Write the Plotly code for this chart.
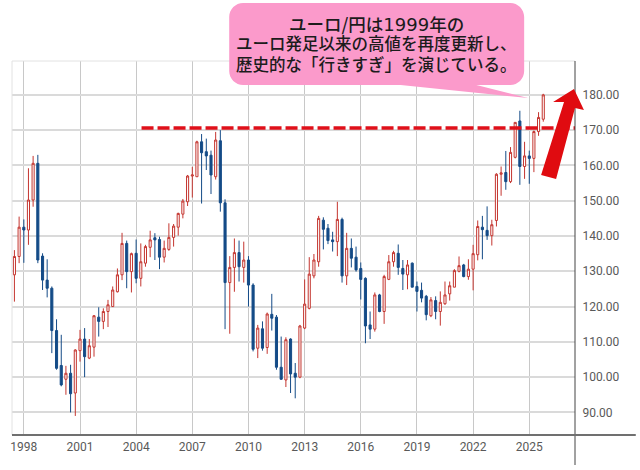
import plotly.graph_objects as go
import pandas as pd

W, H = 640, 470
L, R, T, B = 10, 65, 61, 35

opens = [129, 134.2, 142.5, 141.7, 150.2, 160.6, 134.3, 127.5, 125.2, 113.2,
         103.3, 99.4, 101.1, 95.5, 107.5, 110.8, 105.4, 108.5, 117, 115.8,
         118.6, 120, 124.2, 129, 137.9, 129.9, 135.1, 128, 132.3, 136.8,
         139.5, 139, 134, 136.2, 139.6, 142.5, 146.2, 149.7, 157, 156.8,
         166.7, 163.9,
         162.9, 156.8, 167, 149.4, 126.8, 131.1, 135.3, 131.1, 133.2, 126.1,
         108.2, 113.7, 108.4, 117.8, 117, 102.8, 99.2, 110.8, 101.1, 100,
         113.9, 119.5, 128.7, 132.7, 144.5, 142.2, 138.9, 138.4, 144.7, 128.7,
         136.5, 134, 130.8, 128, 114.8, 113.6, 123.3, 118.6, 127.7, 132.7,
         135.1, 130.8, 129, 132.3,
         125.7, 124.6, 122.9, 117.4, 121.7, 118.6, 120.8, 123.6, 125.5, 130,
         131.8, 128.5, 130.6, 134.7, 142.5, 141.6, 140.1, 144.4, 157.5, 158,
         155.4, 162.3, 172.6, 159.7, 162.7, 162, 169.6, 173.1]
highs = [136, 145.5, 144.7, 159.2, 162.7, 163, 135.1, 133.4, 125.7, 116.4,
         112, 103.2, 103.5, 107.9, 113.4, 113.9, 110.8, 117.6, 119.8, 119.5,
         121.9, 125.7, 130.8, 140.9, 138.7, 135.3, 139, 137.9, 137.5, 141.5,
         140.8, 139.8, 138.7, 143.6, 143.4, 146.6, 150.5, 157.3, 159.6, 167,
         168.9, 167.6,
         164.2, 169.5, 170, 150.4, 134.3, 139.3, 138.7, 138.4, 134.3, 126.6,
         114.8, 115.8, 118.3, 123.6, 117.6, 111.5, 111.3, 111, 104, 114.8,
         127.7, 134, 134.9, 145.7, 145.3, 143.4, 141.2, 149.7, 145.2, 140.9,
         139.3, 137, 132.5, 128.3, 118.6, 124, 123.6, 129, 134.6, 135.8,
         137.6, 133.2, 133.2, 132.5,
         127.1, 126.8, 123.3, 122.7, 122.9, 124.3, 127.1, 127.1, 130.6, 134.2,
         132.1, 133.4, 137.5, 144.4, 145.7, 148.4, 144.6, 157.8, 159.7, 164.1,
         165.2, 172.2, 175.5, 166.7, 164.2, 169.9, 175.1, 180.3]
lows = [121.4, 132.3, 132.4, 137.5, 148.3, 132.3, 124.7, 122.6, 106.8, 102.1,
        97.4, 95, 90, 89, 104.4, 100, 105.1, 105.8, 111.5, 113.6,
        114.2, 120, 124, 127.5, 125.2, 124, 126.6, 125.7, 131.3, 134,
        133.2, 130.6, 132.5, 135.8, 137, 140.1, 145, 148.5, 150.9, 156.8,
        149.2, 158.7,
        151.9, 156, 146.9, 113.6, 112.3, 124.2, 127.1, 126.8, 120, 107.3,
        105.4, 107.5, 106.6, 113.2, 102.1, 99.2, 97.2, 95.5, 94, 99.7,
        113.6, 119.2, 128, 131.3, 136.2, 137.7, 135.6, 134.3, 126.8, 126.1,
        131.1, 129.9, 122, 109.6, 110.8, 112.9, 118.4, 115.1, 127.5, 131.3,
        129, 124.7, 124.9, 125.5,
        118.6, 121.2, 116.1, 117, 116.4, 114.6, 120.5, 121.7, 125.5, 129.7,
        128.3, 127.6, 124.6, 133.1, 133.4, 138.9, 137.3, 142.7, 151.4, 153.1,
        155, 162, 154.5, 156.2, 154.8, 158.1, 168.4, 172.4]
closes = [134.2, 142.5, 141.7, 150.2, 160.6, 133.2, 127.5, 125.2, 113.2, 102.5,
          97.8, 101.1, 95.3, 107.7, 110.8, 105.8, 108.9, 117.4, 115.8, 118.6,
          120.5, 124.7, 129, 137.9, 129.9, 135, 128, 132.7, 137, 138.9,
          138.9, 134, 136.5, 139.6, 142.8, 146.4, 149.9, 157, 157.3, 166.7,
          163.6, 162.7,
          157.3, 167.2, 149.4, 126.8, 131.1, 135.3, 131.3, 133.2, 126.1, 107.9,
          113.9, 108.2, 117.9, 116.7, 102.8, 99.4, 110.6, 100.9, 100, 114.5,
          120.7, 129.2, 133.2, 145, 141.9, 138.7, 138.4, 144.7, 128.7, 136.5,
          133.7, 130.4, 127.7, 114.5, 113.6, 123.3, 118.6, 128.5, 132.7, 135.3,
          131.1, 129.2, 131.8, 125.5,
          124.3, 122.4, 117.7, 121.9, 118.6, 121.2, 123.3, 125.9, 130.2, 131.6,
          128.5, 130.6, 135, 142.7, 141.8, 140.1, 143.2, 157.5, 157.9, 155.4,
          163.7, 172.2, 159.7, 162.7, 162, 169.6, 173.6, 180]

dates = pd.date_range('1997-07-01', periods=len(opens), freq='QS')

tick_years = [1998, 2001, 2004, 2007, 2010, 2013, 2016, 2019, 2022, 2025]
price_ticks = [90, 100, 110, 120, 130, 140, 150, 160, 170, 180]
resistance = 170.6
callout_text = [
    'ユーロ/円は<span style="font-family:\'DejaVu Sans\';font-size:18px">1999</span>年の',
    'ユーロ発足以来の高値を再度更新し、',
    '歴史的な「行きすぎ」を演じている。',
]
callout_rows = [23, 43.5, 64]
callout_sizes = [17.5, 16.5, 16.5]


def fx(px):
    return (px - L) / (W - L - R)


def fy(py):
    return 1 - (py - T) / (H - T - B)


def paper_path(points):
    return 'M ' + ' L '.join(f'{fx(x):.4f},{fy(y):.4f}' for x, y in points) + ' Z'


def bubble_path():
    # rounded box with the tail running to the last high
    l, r, t, b, c = 228, 524, 3, 85, 14
    k = c * 0.45
    p = f'M {fx(l + c):.4f},{fy(t):.4f} L {fx(r - c):.4f},{fy(t):.4f} '
    p += f'C {fx(r - k):.4f},{fy(t):.4f} {fx(r):.4f},{fy(t + k):.4f} {fx(r):.4f},{fy(t + c):.4f} '
    p += f'L {fx(r):.4f},{fy(b - c):.4f} '
    p += f'C {fx(r):.4f},{fy(b - k):.4f} {fx(r - k):.4f},{fy(b):.4f} {fx(r - c):.4f},{fy(b):.4f} '
    p += f'L {fx(476):.4f},{fy(b):.4f} L {fx(528):.4f},{fy(98):.4f} L {fx(400):.4f},{fy(b):.4f} '
    p += f'L {fx(l + c):.4f},{fy(b):.4f} '
    p += f'C {fx(l + k):.4f},{fy(b):.4f} {fx(l):.4f},{fy(b - k):.4f} {fx(l):.4f},{fy(b - c):.4f} '
    p += f'L {fx(l):.4f},{fy(t + c):.4f} '
    p += f'C {fx(l):.4f},{fy(t + k):.4f} {fx(l + k):.4f},{fy(t):.4f} {fx(l + c):.4f},{fy(t):.4f} Z'
    return p


fig = go.Figure()
fig.add_trace(go.Candlestick(
    x=dates, open=opens, high=highs, low=lows, close=closes,
    whiskerwidth=0,
    increasing=dict(line=dict(color='#c4352f', width=1), fillcolor='#ffffff'),
    decreasing=dict(line=dict(color='#144b87', width=1), fillcolor='#144b87'),
    showlegend=False))

arrow = [(541, 175), (556, 179), (575, 108), (584, 110), (574, 89), (553, 102), (564, 102)]
shapes = [
    dict(type='line', xref='paper', yref='paper', x0=0, x1=1, y0=1, y1=1, line=dict(color='#e2e2e2', width=1)),
    dict(type='line', xref='paper', yref='paper', x0=0, x1=0, y0=0, y1=1, line=dict(color='#e2e2e2', width=1)),
    dict(type='line', xref='paper', yref='y', x0=fx(140), x1=1, y0=resistance, y1=resistance,
         line=dict(color='#e0101a', width=3.5, dash='12px,4px')),
    dict(type='line', xref='paper', yref='paper', x0=1, x1=1, y0=fy(465), y1=1, line=dict(color='#444444', width=1)),
    dict(type='line', xref='paper', yref='paper', x0=0, x1=fx(636), y0=0, y1=0, line=dict(color='#707070', width=2)),
    dict(type='path', xref='paper', yref='paper', path=paper_path(arrow), fillcolor='#e00b10', line=dict(width=0)),
    dict(type='path', xref='paper', yref='paper', path=bubble_path(), fillcolor='#fb9acb', line=dict(width=0)),
]
annotations = [
    dict(text=text, xref='paper', yref='paper', x=fx(376), y=fy(row),
         xanchor='center', yanchor='middle', showarrow=False,
         font=dict(family='Noto Sans CJK JP', size=size, color='#1c1c1c', weight=500))
    for text, row, size in zip(callout_text, callout_rows, callout_sizes)
]
fig.update_layout(
    width=W, height=H,
    margin=dict(l=L, r=R, t=T, b=B),
    paper_bgcolor='#ffffff', plot_bgcolor='#ffffff',
    shapes=shapes,
    boxgap=0.35,
    font=dict(family='Roboto', size=12, color='#595959'),
    annotations=annotations,
)
fig.update_xaxes(
    type='date', rangeslider_visible=False,
    range=['1997-05-15', '2027-06-12'],
    tickvals=[f'{y}-01-01' for y in tick_years], ticktext=[str(y) for y in tick_years],
    showgrid=True, gridcolor='#c8c8c8', gridwidth=1, zeroline=False, showline=False,
    ticks='outside', ticklen=1, tickcolor='rgba(0,0,0,0)')
fig.update_yaxes(
    side='right', range=[83.6, 189.6],
    tickvals=price_ticks, tickformat='.2f',
    showgrid=True, gridcolor='#dadada', gridwidth=1.5, zeroline=False, showline=False,
    ticks='outside', ticklen=4, tickcolor='rgba(0,0,0,0)')

# the page's default body margin would push everything 8px right and down
fig.write_html('out.html', config={'displayModeBar': False},
               post_script="document.body.style.margin='0';")
